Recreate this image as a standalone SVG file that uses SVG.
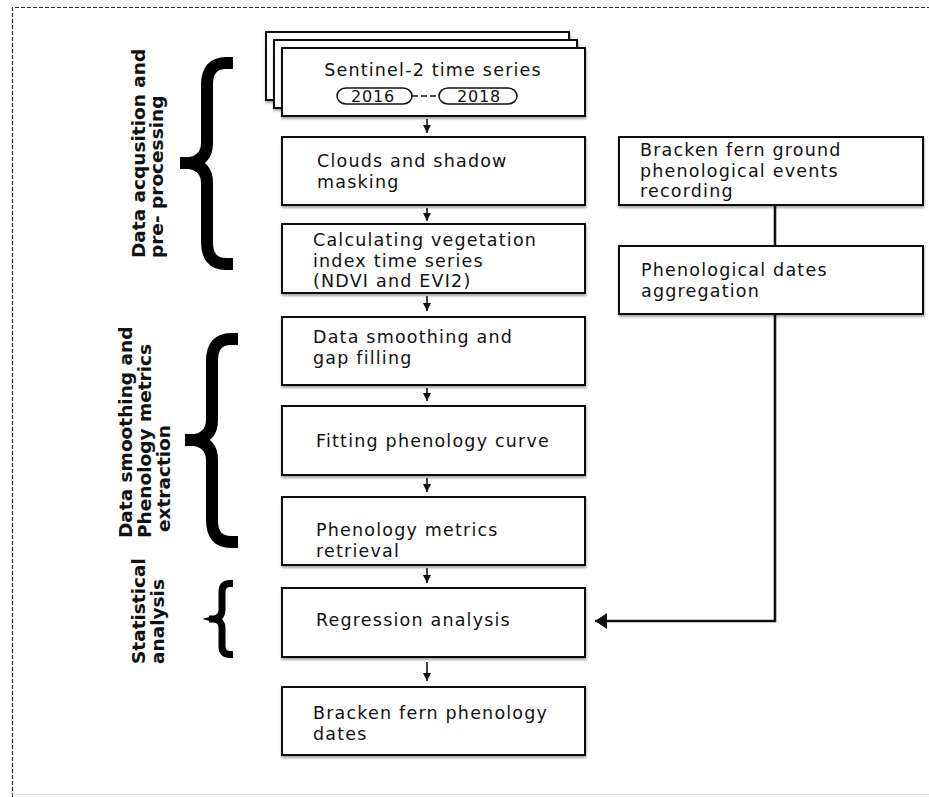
<svg xmlns="http://www.w3.org/2000/svg" width="929" height="797" viewBox="0 0 929 797">
<defs>
<style>
.box{fill:#fff;stroke:#111;stroke-width:2;filter:url(#sh)}
.t{font-family:"DejaVu Sans","Liberation Sans",sans-serif;font-size:17.5px;letter-spacing:1.2px;fill:#111}
.yr{font-family:"DejaVu Sans","Liberation Sans",sans-serif;font-size:16px;letter-spacing:0.8px;fill:#111;text-anchor:middle}
.lbl{font-family:"DejaVu Sans","Liberation Sans",sans-serif;font-size:18.5px;font-weight:bold;fill:#111}
.br{fill:none;stroke:#000;stroke-width:12}
.con{fill:none;stroke:#111;stroke-width:1.6}
.big{fill:none;stroke:#111;stroke-width:2.6}
</style>
<filter id="sh" x="-5%" y="-10%" width="110%" height="130%">
<feDropShadow dx="0.5" dy="2" stdDeviation="1.2" flood-color="#000" flood-opacity="0.35"/>
</filter>
<marker id="a" viewBox="0 0 8 8" refX="8" refY="4" markerWidth="8" markerHeight="8" markerUnits="userSpaceOnUse" orient="auto">
<path d="M0,0 L8,4 L0,8 Z" fill="#111"/>
</marker>
<marker id="A" viewBox="0 0 12 16" refX="12" refY="8" markerWidth="12" markerHeight="16" markerUnits="userSpaceOnUse" orient="auto">
<path d="M0,0 L12,8 L0,16 Z" fill="#111"/>
</marker>
</defs>
<rect width="929" height="797" fill="#fff"/>
<path d="M12.5 797 V7.5 H929" fill="none" stroke="#333" stroke-width="1.2" stroke-dasharray="4 2"/>
<path d="M12.5 794.5 H929" fill="none" stroke="#e4e4e4" stroke-width="1"/>

<g id="label-acq">
<text class="lbl" transform="translate(145,258) rotate(-90)">Data acqusition and</text>
<text class="lbl" transform="translate(163,258) rotate(-90)">pre- processing</text>
<path class="br" d="M233 63 H226 Q207 63 207 85 V143 Q207 160 190 163 Q207 166 207 183 V242 Q207 264 226 264 H233"/>
<rect x="180" y="157" width="16" height="12" fill="#000"/>
</g>
<g id="label-smooth">
<text class="lbl" transform="translate(132,538) rotate(-90)">Data smoothing and</text>
<text class="lbl" transform="translate(151,538) rotate(-90)">Phenology metrics</text>
<text class="lbl" transform="translate(170,532) rotate(-90)">extraction</text>
<path class="br" d="M238 339 H231 Q212 339 212 361 V420 Q212 437 195 440 Q212 443 212 460 V520 Q212 542 231 542 H238"/>
<rect x="185" y="434" width="16" height="12" fill="#000"/>
</g>
<g id="label-stat">
<text class="lbl" transform="translate(145,664) rotate(-90)">Statistical</text>
<text class="lbl" transform="translate(164,664) rotate(-90)">analysis</text>
<path class="br" style="stroke-width:7" d="M233 583.5 H230 Q222 583.5 222 592 V610 Q222 617 215 619 Q222 621 222 628 V646 Q222 654.5 230 654.5 H233"/>
<rect x="209" y="615.5" width="9" height="7" fill="#000"/>
</g>

<g id="sentinel">
<rect class="box" x="266" y="32" width="303" height="68"/>
<rect class="box" x="274" y="40" width="303" height="68"/>
<rect class="box" x="282" y="48" width="303" height="68"/>
<text class="t" x="433" y="76" text-anchor="middle">Sentinel-2 time series</text>
<rect x="337" y="88" width="75" height="16" rx="9" ry="8" fill="#fff" stroke="#111" stroke-width="1.5"/>
<text class="yr" x="373" y="102">2016</text>
<line x1="412" y1="96" x2="439" y2="96" stroke="#111" stroke-width="1.5" stroke-dasharray="6 3"/>
<rect x="439" y="88" width="78" height="16" rx="9" ry="8" fill="#fff" stroke="#111" stroke-width="1.5"/>
<text class="yr" x="479" y="102">2018</text>
</g>
<g id="clouds">
<rect class="box" x="282" y="137" width="303" height="68"/>
<text class="t" x="317" y="167">Clouds and shadow</text>
<text class="t" x="317" y="188">masking</text>
</g>
<g id="vi">
<rect class="box" x="282" y="224" width="303" height="69"/>
<text class="t" x="313" y="246">Calculating vegetation</text>
<text class="t" x="313" y="266.5">index time series</text>
<text class="t" x="313" y="287">(NDVI and EVI2)</text>
</g>
<g id="smooth">
<rect class="box" x="282" y="317" width="303" height="68"/>
<text class="t" x="313" y="343">Data smoothing and</text>
<text class="t" x="313" y="364">gap filling</text>
</g>
<g id="fit">
<rect class="box" x="282" y="406" width="303" height="69"/>
<text class="t" x="316" y="447">Fitting phenology curve</text>
</g>
<g id="metrics">
<rect class="box" x="282" y="497" width="303" height="68"/>
<text class="t" x="316" y="536">Phenology metrics</text>
<text class="t" x="316" y="557">retrieval</text>
</g>
<g id="regression">
<rect class="box" x="282" y="588" width="303" height="69"/>
<text class="t" x="316" y="626">Regression analysis</text>
</g>
<g id="dates">
<rect class="box" x="282" y="687" width="303" height="68"/>
<text class="t" x="313" y="719">Bracken fern phenology</text>
<text class="t" x="313" y="740">dates</text>
</g>
<g id="ground">
<rect class="box" x="619" y="137" width="304" height="68"/>
<text class="t" x="640" y="156">Bracken fern ground</text>
<text class="t" x="640" y="176.5">phenological events</text>
<text class="t" x="640" y="197">recording</text>
</g>
<g id="aggregation">
<rect class="box" x="619" y="246" width="304" height="68"/>
<text class="t" x="641" y="276">Phenological dates</text>
<text class="t" x="641" y="297">aggregation</text>
</g>

<g id="connectors">
<line class="con" x1="427" y1="119" x2="427" y2="133" marker-end="url(#a)"/>
<line class="con" x1="427" y1="208" x2="427" y2="221" marker-end="url(#a)"/>
<line class="con" x1="427" y1="296" x2="427" y2="311" marker-end="url(#a)"/>
<line class="con" x1="427" y1="388" x2="427" y2="401" marker-end="url(#a)"/>
<line class="con" x1="427" y1="478" x2="427" y2="492" marker-end="url(#a)"/>
<line class="con" x1="427" y1="568" x2="427" y2="583" marker-end="url(#a)"/>
<line class="con" x1="427" y1="662" x2="427" y2="681" marker-end="url(#a)"/>
<line class="big" x1="775" y1="205" x2="775" y2="246"/>
<path class="big" d="M775 314 V621 H595" marker-end="url(#A)"/>
</g>
</svg>
